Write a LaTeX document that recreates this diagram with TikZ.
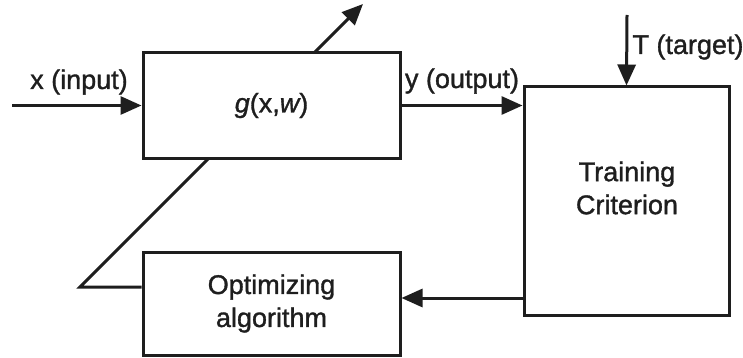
\documentclass[tikz,border=0pt]{standalone}
\usepackage{fontspec}
\setmainfont{Liberation Sans}[UprightFeatures={FakeBold=1.2}, ItalicFeatures={FakeBold=1.2}]
\usetikzlibrary{arrows.meta, positioning, calc, backgrounds}
\definecolor{Ink}{HTML}{1E1E1E}
\definecolor{Paper}{HTML}{FFFFFF}

\begin{document}
\begin{tikzpicture}[
  x=0.5pt, y=-0.5pt,
  font=\fontsize{13.5}{16.5}\selectfont,
  block/.style={
    draw=Ink,
    line width=1.5pt,
    fill=Paper,
    align=center,
    text=Ink,
    inner sep=0pt
  },
  flow/.style={
    -{Triangle[length=10.5pt,width=9pt]},
    line width=1.5pt,
    draw=Ink
  },
  tag/.style={
    text=Ink,
    inner sep=0pt
  }
]

\node[block, minimum width=128.5pt, minimum height=52.5pt] (g) at (271.5,105.5)
  {\itshape g\upshape(x,\itshape w\upshape)};
\node[block, minimum width=102.5pt, minimum height=114pt] (crit) at (626.5,201)
  {};
\node[tag, align=center] (critlabel) at (627,188) {Training\\Criterion};
\node[block, minimum width=128.5pt, minimum height=51.5pt] (opt) at (271.5,303.5)
  {Optimizing\\algorithm};

\coordinate (in) at (12,105.5);
\coordinate (tgt) at (627,15);
\coordinate (fb) at (524,298);
\coordinate (kink) at (80,287);
\coordinate (tip) at (363,4);

\draw[flow] (in) -- (g.west);
\draw[flow] (g.east) -- (g.east -| crit.west);
\draw[flow] (tgt) -- (crit.north);
\draw[flow] (crit.west |- fb) -- (opt.east |- fb);

% the weight line runs behind the g box
\begin{scope}[on background layer]
  \fill[Paper] (0,0) rectangle (743,358);
  \draw[flow] (opt.west |- kink) -- (kink) -- (tip);
\end{scope}
\useasboundingbox (0,0) rectangle (743,358);

\node[tag] (xlabel) at (79,82) {x (input)};
\node[tag] (ylabel) at (462,81) {y (output)};
\node[tag] (tlabel) at (688,47) {T (target)};

\end{tikzpicture}
\end{document}
